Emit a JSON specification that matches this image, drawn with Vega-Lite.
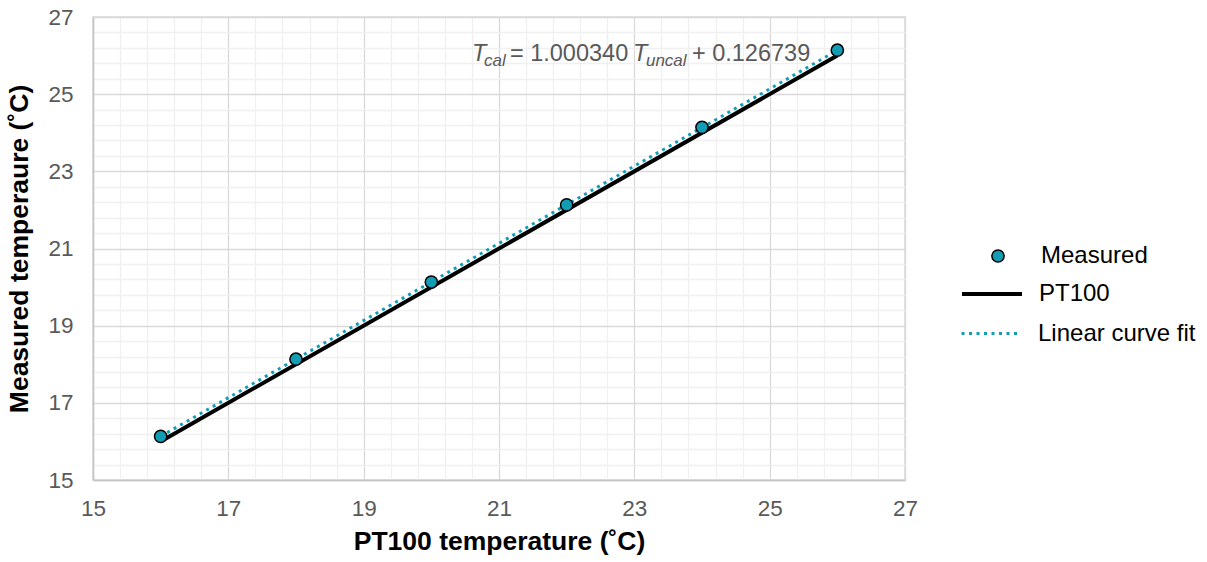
{
  "$schema": "https://vega.github.io/schema/vega-lite/v6.json",
  "width": 812,
  "height": 463,
  "autosize": "none",
  "padding": {"left": 93, "top": 17, "right": 302, "bottom": 82},
  "background": "white",
  "config": {
    "font": "Liberation Sans",
    "view": {"stroke": "#d9d9d9", "strokeWidth": 1.5},
    "axis": {
      "labelFont": "Liberation Sans",
      "titleFont": "Liberation Sans",
      "labelColor": "#595959",
      "labelFontSize": 22.5,
      "titleFontSize": 26.5,
      "titleFontWeight": "bold",
      "titleColor": "#000000",
      "ticks": false,
      "domainColor": "#c4c4c4",
      "domainWidth": 1.5,
      "gridWidth": 1.3,
      "labelOverlap": false,
      "labelFlush": false,
      "tickCount": 100,
      "format": ".0f"
    },
    "legend": {
      "labelFont": "Liberation Sans",
      "labelFontSize": 24,
      "labelColor": "#000000",
      "padding": 0,
      "orient": "none"
    }
  },
  "datasets": {
    "measured": [
      {"x": 16, "y": 16.13, "series": "Measured"},
      {"x": 18, "y": 18.13, "series": "Measured"},
      {"x": 20, "y": 20.13, "series": "Measured"},
      {"x": 22, "y": 22.13, "series": "Measured"},
      {"x": 24, "y": 24.14, "series": "Measured"},
      {"x": 26, "y": 26.14, "series": "Measured"}
    ],
    "pt100": [
      {"x": 16, "y": 16, "series": "PT100"},
      {"x": 26, "y": 26, "series": "PT100"}
    ],
    "fit": [
      {"x": 16, "y": 16.132, "series": "Linear curve fit"},
      {"x": 26, "y": 26.136, "series": "Linear curve fit"}
    ],
    "eq": [
      {"x": 20.6, "y": 25.87}
    ]
  },
  "layer": [
    {
      "data": {"name": "pt100"},
      "mark": {"type": "line", "strokeWidth": 4, "strokeCap": "butt"},
      "encoding": {
        "x": {
          "field": "x", "type": "quantitative",
          "scale": {"domain": [15, 27], "nice": false, "zero": false},
          "title": "PT100 temperature (˚C)",
          "axis": {
            "values": [15,15.4,15.8,16.2,16.6,17,17.4,17.8,18.2,18.6,19,19.4,19.8,20.2,20.6,21,21.4,21.8,22.2,22.6,23,23.4,23.8,24.2,24.6,25,25.4,25.8,26.2,26.6,27],
            "labelExpr": "datum.value % 2 === 1 ? datum.label : ''",
            "gridColor": {"condition": {"test": "datum.value % 2 === 1", "value": "#d9d9d9"}, "value": "#f0f0f0"},
            "labelPadding": 17,
            "titlePadding": 9
          }
        },
        "y": {
          "field": "y", "type": "quantitative",
          "scale": {"domain": [15, 27], "nice": false, "zero": false},
          "title": "Measured temperaure (˚C)",
          "axis": {
            "values": [15,15.4,15.8,16.2,16.6,17,17.4,17.8,18.2,18.6,19,19.4,19.8,20.2,20.6,21,21.4,21.8,22.2,22.6,23,23.4,23.8,24.2,24.6,25,25.4,25.8,26.2,26.6,27],
            "labelExpr": "datum.value % 2 === 1 ? datum.label : ''",
            "gridColor": {"condition": {"test": "datum.value % 2 === 1", "value": "#d9d9d9"}, "value": "#f0f0f0"},
            "labelPadding": 20,
            "titlePadding": 14
          }
        },
        "stroke": {
          "field": "series", "type": "nominal",
          "scale": {"domain": ["PT100"], "range": ["#000000"]},
          "legend": {
            "title": null,
            "legendX": 867,
            "legendY": 245,
            "symbolType": "stroke",
            "symbolSize": 3600,
            "symbolStrokeWidth": 4,
            "symbolStrokeColor": "#000000",
            "labelOffset": 15
          }
        }
      }
    },
    {
      "data": {"name": "fit"},
      "mark": {"type": "line", "strokeWidth": 3, "color": "#139db5", "strokeCap": "butt"},
      "encoding": {
        "x": {"field": "x", "type": "quantitative"},
        "y": {"field": "y", "type": "quantitative"},
        "strokeDash": {
          "field": "series", "type": "nominal",
          "scale": {"domain": ["Linear curve fit"], "range": [[3, 4.5]]},
          "legend": {
            "title": null,
            "legendX": 867,
            "legendY": 285,
            "symbolType": "stroke",
            "symbolSize": 3600,
            "symbolStrokeWidth": 3,
            "symbolStrokeColor": "#139db5",
            "labelOffset": 15
          }
        }
      }
    },
    {
      "data": {"name": "measured"},
      "mark": {"type": "point", "shape": "circle", "filled": true, "size": 150, "stroke": "#000000", "strokeWidth": 1.5, "opacity": 1},
      "encoding": {
        "x": {"field": "x", "type": "quantitative"},
        "y": {"field": "y", "type": "quantitative"},
        "fill": {
          "field": "series", "type": "nominal",
          "scale": {"domain": ["Measured"], "range": ["#139db5"]},
          "legend": {
            "title": null,
            "legendX": 893,
            "legendY": 227,
            "symbolType": "circle",
            "symbolSize": 150,
            "symbolStrokeWidth": 1.5,
            "symbolStrokeColor": "#000000",
            "symbolOpacity": 1,
            "labelOffset": 31
          }
        }
      }
    },
    {
      "data": {"name": "eq"},
      "layer": [
        {"mark": {"type": "text", "text": "T", "fontStyle": "italic", "fontSize": 23.5, "align": "left", "baseline": "alphabetic", "color": "#595959", "font": "Liberation Sans"}},
        {"mark": {"type": "text", "text": "cal", "fontStyle": "italic", "fontSize": 17, "dx": 12, "dy": 5, "align": "left", "baseline": "alphabetic", "color": "#595959", "font": "Liberation Sans"}},
        {"mark": {"type": "text", "text": "= 1.000340", "fontSize": 23.5, "dx": 38, "align": "left", "baseline": "alphabetic", "color": "#595959", "font": "Liberation Sans"}},
        {"mark": {"type": "text", "text": "T", "fontStyle": "italic", "fontSize": 23.5, "dx": 161, "align": "left", "baseline": "alphabetic", "color": "#595959", "font": "Liberation Sans"}},
        {"mark": {"type": "text", "text": "uncal", "fontStyle": "italic", "fontSize": 17, "dx": 174, "dy": 5, "align": "left", "baseline": "alphabetic", "color": "#595959", "font": "Liberation Sans"}},
        {"mark": {"type": "text", "text": "+ 0.126739", "fontSize": 23.5, "dx": 220, "align": "left", "baseline": "alphabetic", "color": "#595959", "font": "Liberation Sans"}}
      ],
      "encoding": {
        "x": {"field": "x", "type": "quantitative"},
        "y": {"field": "y", "type": "quantitative"}
      }
    }
  ]
}
